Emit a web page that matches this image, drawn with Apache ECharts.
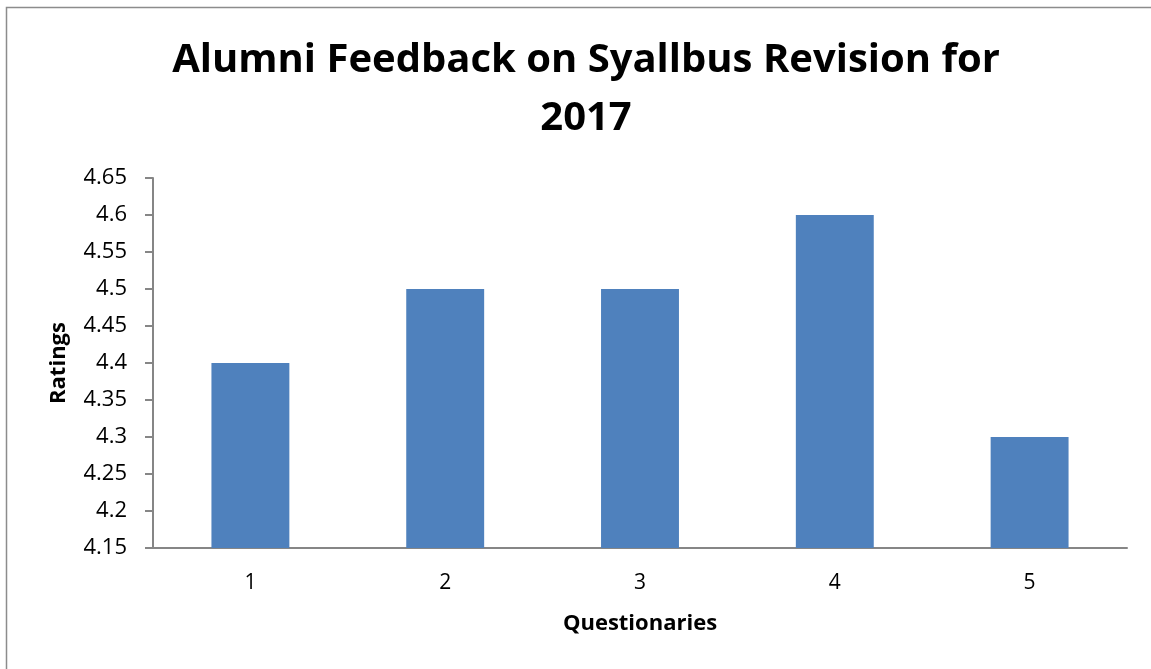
<!DOCTYPE html>
<html>
<head>
<meta charset="utf-8">
<script src="https://cdn.jsdelivr.net/npm/echarts@6/dist/echarts.min.js"></script>
<style>
  html, body { margin: 0; padding: 0; background: #fff; }
  #chart { width: 1151px; height: 669px; }
</style>
</head>
<body>
<div id="chart"></div>
<script>
const categories = ['1', '2', '3', '4', '5']
const ratings = [4.4, 4.5, 4.5, 4.6, 4.3]
const titleLines = ['Alumni Feedback on Syallbus Revision for', '2017']
const yName = 'Ratings'
const xName = 'Questionaries'

const font = '"Open Sans", "Noto Sans", sans-serif'
const chart = echarts.init(document.getElementById('chart'))

chart.setOption({
  backgroundColor: '#fff',
  animation: false,
  graphic: [{
    type: 'rect',
    shape: { x: 6.5, y: 7.5, width: 1300, height: 800 },
    style: { fill: 'none', stroke: '#8c8c8c', lineWidth: 1.5 }
  }],
  title: {
    text: titleLines.join('\n'),
    left: 581,
    top: 27,
    textAlign: 'center',
    textStyle: {
      fontFamily: font,
      fontSize: 40,
      fontWeight: 'bold',
      color: '#000',
      lineHeight: 58
    }
  },
  grid: { left: 153, right: 24, top: 178, bottom: 121 },
  xAxis: {
    type: 'category',
    data: categories,
    name: xName,
    nameLocation: 'middle',
    nameGap: 65,
    nameTextStyle: { fontFamily: font, fontSize: 22, fontWeight: 'bold', color: '#000' },
    axisLine: { lineStyle: { color: '#868686', width: 2 } },
    axisTick: { show: false },
    axisLabel: { fontFamily: font, fontSize: 21, color: '#000', margin: 25 }
  },
  yAxis: {
    type: 'value',
    min: 4.15,
    max: 4.65,
    interval: 0.05,
    name: yName,
    nameLocation: 'middle',
    nameGap: 83,
    nameTextStyle: { fontFamily: font, fontSize: 22, fontWeight: 'bold', color: '#000' },
    axisLine: { show: true, lineStyle: { color: '#868686', width: 2 } },
    axisTick: { show: true, length: 8, lineStyle: { color: '#868686', width: 2 } },
    splitLine: { show: false },
    axisLabel: {
      fontFamily: font, fontSize: 22, color: '#000', margin: 26,
      formatter: v => String(Math.round(v * 100) / 100)
    }
  },
  series: [{
    type: 'bar',
    data: ratings,
    barWidth: '40%',
    itemStyle: { color: '#4F81BD' }
  }]
})
</script>
</body>
</html>
